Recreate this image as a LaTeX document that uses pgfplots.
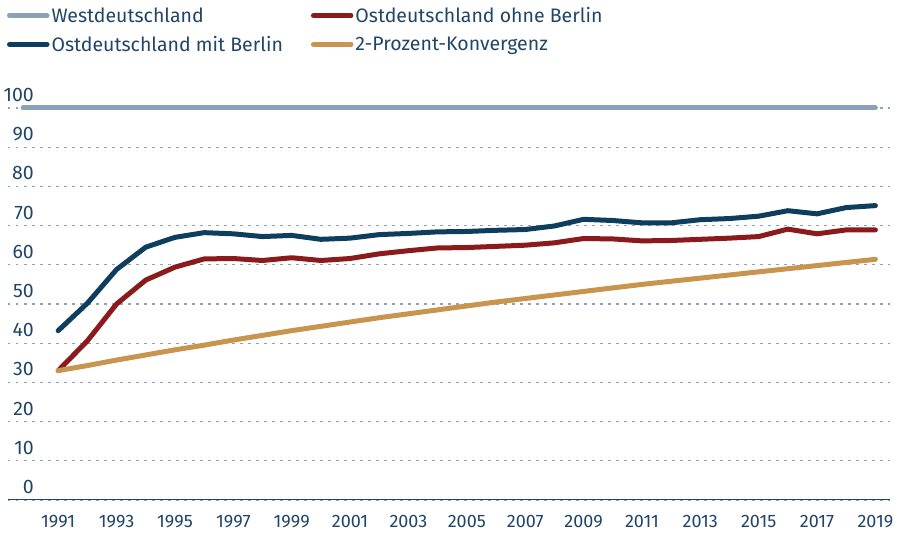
\documentclass[border=0pt]{standalone}
\usepackage{fontspec}
\setmainfont{Fira Sans}
\usepackage{pgfplots}
\pgfplotsset{compat=1.18}
\definecolor{cwest}{HTML}{8CA1B6}
\definecolor{cmit}{HTML}{0F3D5E}
\definecolor{cohne}{HTML}{8A1A1C}
\definecolor{cgold}{HTML}{C8954E}
\definecolor{ctext}{HTML}{1F4568}
\definecolor{cgrid}{HTML}{8FA3B8}
\begin{document}
\begin{tikzpicture}
\useasboundingbox (-8pt,-35pt) rectangle (889pt,500pt);
\begin{axis}[
  scale only axis,
  width=882pt, height=392pt,
  xmin=1989.28, xmax=2019.5,
  ymin=0, ymax=100,
  clip=false,
  axis lines*=left,
  separate axis lines,
  y axis line style={draw=none},
  x axis line style={-, draw=ctext, line width=1pt},
  xtick={1991,1993,...,2019},
  ytick={0,10,...,100},
  major tick length=0pt,
  ymajorgrids,
  grid style={draw=cgrid, line width=1.1pt, dash pattern=on 2.5pt off 5.5pt},
  /pgf/number format/assume math mode=true,
  xticklabel={\pgfmathprintnumber[1000 sep={}]{\tick}},
  xticklabel style={font=\fontsize{18}{20}\selectfont, text=ctext, anchor=north, yshift=-12pt},
  yticklabel style={font=\fontsize{19.5}{22}\selectfont, text=ctext, anchor=south east, inner sep=0pt, xshift=26pt, yshift=6pt},
  every axis plot/.append style={line width=5pt, line join=round, line cap=round},
  legend columns=2,
  legend cell align=left,
  legend style={at={(-0.0011,1.262)}, anchor=north west, draw=none, fill=none,
    font=\fontsize{19.5}{22}\selectfont, text=ctext, inner sep=0pt, outer sep=0pt,
    /tikz/every even column/.append style={column sep=26pt},
    row sep=8pt},
  legend image code/.code={\path (0pt,0pt) -- (37.5pt,0pt); \draw[#1, line width=5pt, line cap=round] (2.5pt,0pt) -- (32.5pt,0pt);},
]
\addplot[cwest] coordinates {(1989.8,100) (2019,100)};
\addlegendentry{Westdeutschland}
\addplot[cohne] coordinates {
(1991,33.0) (1992,40.6) (1993,50.0) (1994,56.1) (1995,59.4) (1996,61.5) (1997,61.6) (1998,61.1) (1999,61.8) (2000,61.1)
(2001,61.6) (2002,62.8) (2003,63.6) (2004,64.3) (2005,64.4) (2006,64.7) (2007,65.0) (2008,65.6) (2009,66.7) (2010,66.6)
(2011,66.1) (2012,66.2) (2013,66.5) (2014,66.8) (2015,67.2) (2016,69.1) (2017,67.9) (2018,68.9) (2019,68.9)};
\addlegendentry{Ostdeutschland ohne Berlin}
\addplot[cmit] coordinates {
(1991,43.2) (1992,50.2) (1993,58.8) (1994,64.5) (1995,67.0) (1996,68.2) (1997,67.9) (1998,67.2) (1999,67.5) (2000,66.5)
(2001,66.8) (2002,67.7) (2003,68.0) (2004,68.4) (2005,68.5) (2006,68.8) (2007,69.0) (2008,69.9) (2009,71.6) (2010,71.3)
(2011,70.7) (2012,70.7) (2013,71.5) (2014,71.8) (2015,72.4) (2016,73.8) (2017,73.0) (2018,74.6) (2019,75.1)};
\addlegendentry{Ostdeutschland mit Berlin}
\addplot[cgold] coordinates {
(1991,33.0) (1992,34.3) (1993,35.7) (1994,37.0) (1995,38.3) (1996,39.5) (1997,40.8) (1998,42.0) (1999,43.2) (2000,44.3)
(2001,45.4) (2002,46.5) (2003,47.5) (2004,48.5) (2005,49.5) (2006,50.5) (2007,51.4) (2008,52.3) (2009,53.2) (2010,54.1)
(2011,55.0) (2012,55.8) (2013,56.6) (2014,57.4) (2015,58.2) (2016,59.0) (2017,59.8) (2018,60.6) (2019,61.4)};
\addlegendentry{2-Prozent-Konvergenz}
\end{axis}
\end{tikzpicture}
\end{document}
